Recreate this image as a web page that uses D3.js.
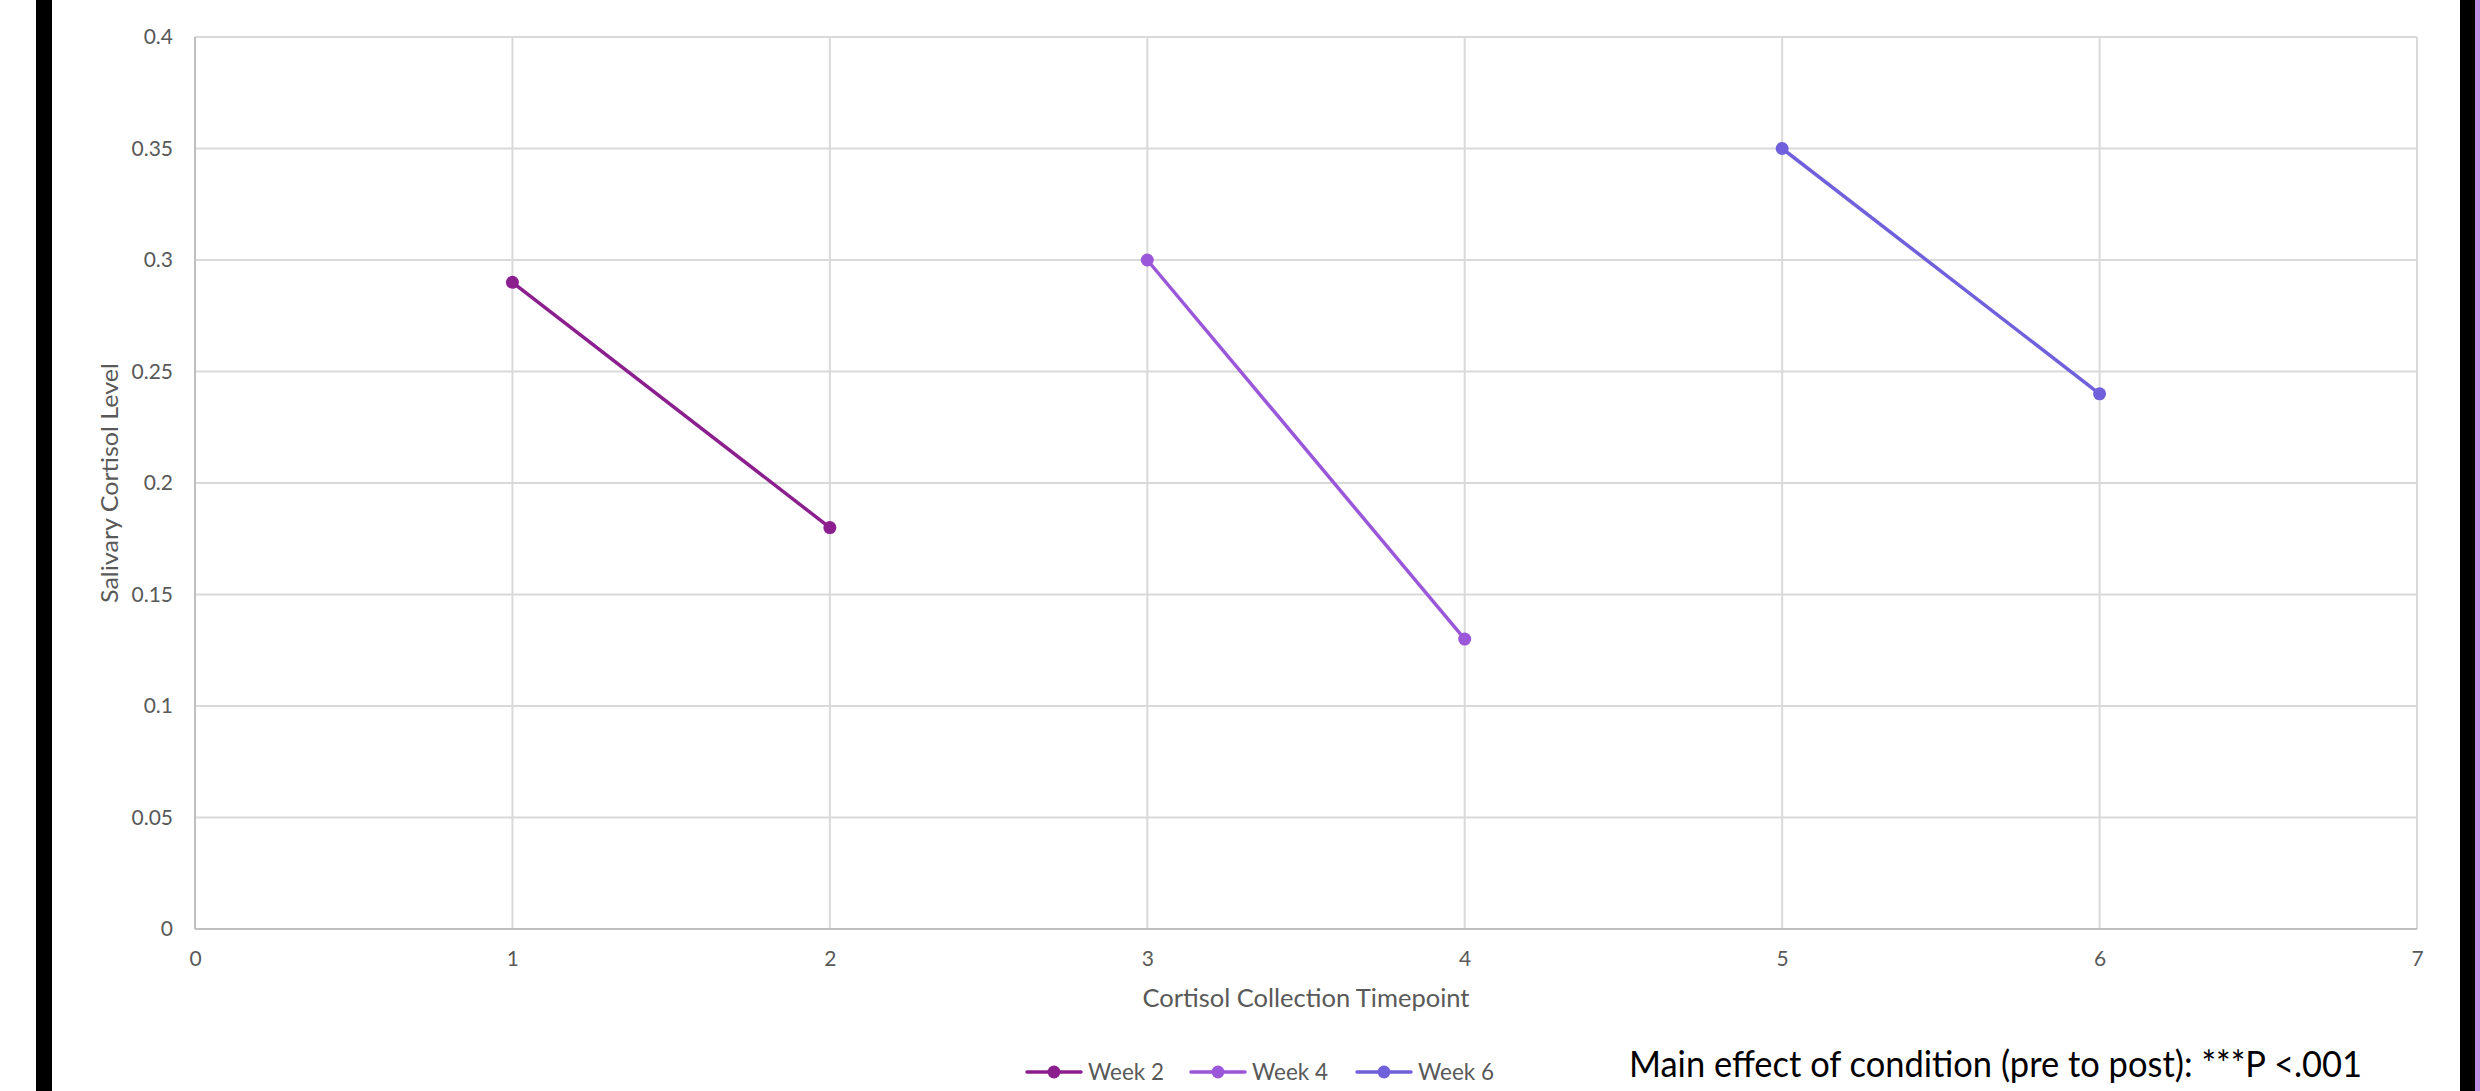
<!DOCTYPE html>
<html>
<head>
<meta charset="utf-8">
<script src="https://cdn.jsdelivr.net/npm/d3@7"></script>
<style>
  html, body { margin: 0; padding: 0; background: #ffffff; }
  svg { display: block; }
  text { font-family: Lato, "Open Sans", sans-serif; }
</style>
</head>
<body>
<svg id="chart" width="2480" height="1091"></svg>
<script>
// ---- data ----
const seriesNames = ["Week 2", "Week 4", "Week 6"];
const seriesColors = ["#8c1f8e", "#9b57d9", "#7060dc"];
const week2 = [{x: 1, y: 0.29}, {x: 2, y: 0.18}];
const week4 = [{x: 3, y: 0.30}, {x: 4, y: 0.13}];
const week6 = [{x: 5, y: 0.35}, {x: 6, y: 0.24}];
const xTicks = [0, 1, 2, 3, 4, 5, 6, 7];
const yTicks = [0, 0.05, 0.1, 0.15, 0.2, 0.25, 0.3, 0.35, 0.4];
const yTickLabels = ["0", "0.05", "0.1", "0.15", "0.2", "0.25", "0.3", "0.35", "0.4"];
const xTitle = "Cortisol Collection Timepoint";
const yTitle = "Salivary Cortisol Level";
const note = "Main effect of condition (pre to post): ***P <.001";

const allSeries = [week2, week4, week6];

const svg = d3.select("#chart");
const W = 2480, H = 1091;
const plot = {left: 195, right: 2417, top: 37, bottom: 929};

// side frame bars
svg.append("rect").attr("x", 36).attr("y", 0).attr("width", 16).attr("height", H).attr("fill", "#000");
svg.append("rect").attr("x", 2460).attr("y", 0).attr("width", 15).attr("height", H).attr("fill", "#000");
svg.append("rect").attr("x", 2475).attr("y", 0).attr("width", 5).attr("height", H).attr("fill", "#c18fe0");

const x = d3.scaleLinear().domain([0, 7]).range([plot.left, plot.right]);
const y = d3.scaleLinear().domain([0, 0.4]).range([plot.bottom, plot.top]);

// gridlines
const grid = svg.append("g");
grid.selectAll("line.hy").data(yTicks.slice(1)).enter().append("line")
  .attr("x1", plot.left).attr("x2", plot.right)
  .attr("y1", d => y(d)).attr("y2", d => y(d))
  .attr("stroke", "#d9d9d9").attr("stroke-width", 2);
grid.selectAll("line.vx").data(xTicks.slice(1)).enter().append("line")
  .attr("x1", d => x(d)).attr("x2", d => x(d))
  .attr("y1", plot.top).attr("y2", plot.bottom)
  .attr("stroke", "#d9d9d9").attr("stroke-width", 2);

// axes lines
svg.append("line").attr("x1", plot.left).attr("x2", plot.left).attr("y1", plot.top).attr("y2", plot.bottom)
  .attr("stroke", "#bfbfbf").attr("stroke-width", 2);
svg.append("line").attr("x1", plot.left).attr("x2", plot.right).attr("y1", plot.bottom).attr("y2", plot.bottom)
  .attr("stroke", "#bfbfbf").attr("stroke-width", 2);

// y tick labels
const yAxis = d3.axisLeft(y).tickValues(yTicks).tickSize(0).tickPadding(22)
  .tickFormat((d, i) => yTickLabels[i]);
const gy = svg.append("g").attr("transform", `translate(${plot.left},0)`).call(yAxis);
gy.select(".domain").remove();
gy.selectAll("text").attr("font-family", "Lato, sans-serif").attr("font-size", 21).attr("fill", "#595959");

// x tick labels
const xAxis = d3.axisBottom(x).tickValues(xTicks).tickSize(0).tickPadding(22).tickFormat(d3.format("d"));
const gx = svg.append("g").attr("transform", `translate(0,${plot.bottom})`).call(xAxis);
gx.select(".domain").remove();
gx.selectAll("text").attr("font-family", "Lato, sans-serif").attr("font-size", 21).attr("fill", "#595959");

// titles
svg.append("text").attr("x", (plot.left + plot.right) / 2).attr("y", 1007)
  .attr("text-anchor", "middle").attr("font-size", 25).attr("fill", "#595959")
  .attr("textLength", 327).attr("lengthAdjust", "spacingAndGlyphs").text(xTitle);
svg.append("text").attr("transform", `translate(118,${(plot.top + plot.bottom) / 2}) rotate(-90)`)
  .attr("text-anchor", "middle").attr("font-size", 24).attr("fill", "#595959")
  .attr("textLength", 240).attr("lengthAdjust", "spacingAndGlyphs").text(yTitle);

// series
const line = d3.line().x(d => x(d.x)).y(d => y(d.y));
allSeries.forEach((s, i) => {
  const g = svg.append("g");
  g.append("path").datum(s).attr("d", line).attr("fill", "none")
    .attr("stroke", seriesColors[i]).attr("stroke-width", 3.5);
  g.selectAll("circle").data(s).enter().append("circle")
    .attr("cx", d => x(d.x)).attr("cy", d => y(d.y)).attr("r", 6.5)
    .attr("fill", seriesColors[i]);
});

// legend
const legendStarts = [1027, 1191, 1357];
const legY = 1072;
seriesNames.forEach((name, i) => {
  const lx = legendStarts[i];
  const g = svg.append("g");
  g.append("line").attr("x1", lx).attr("x2", lx + 54).attr("y1", legY).attr("y2", legY)
    .attr("stroke", seriesColors[i]).attr("stroke-width", 3.5).attr("stroke-linecap", "round");
  g.append("circle").attr("cx", lx + 27).attr("cy", legY).attr("r", 6.5).attr("fill", seriesColors[i]);
  g.append("text").attr("x", lx + 61).attr("y", legY + 8).attr("font-size", 24)
    .attr("fill", "#595959").attr("textLength", 76).attr("lengthAdjust", "spacingAndGlyphs").text(name);
});

// annotation
svg.append("text").attr("x", 1629).attr("y", 1077).attr("font-size", 37).attr("fill", "#000")
  .attr("textLength", 733).attr("lengthAdjust", "spacingAndGlyphs").text(note);
</script>
</body>
</html>
